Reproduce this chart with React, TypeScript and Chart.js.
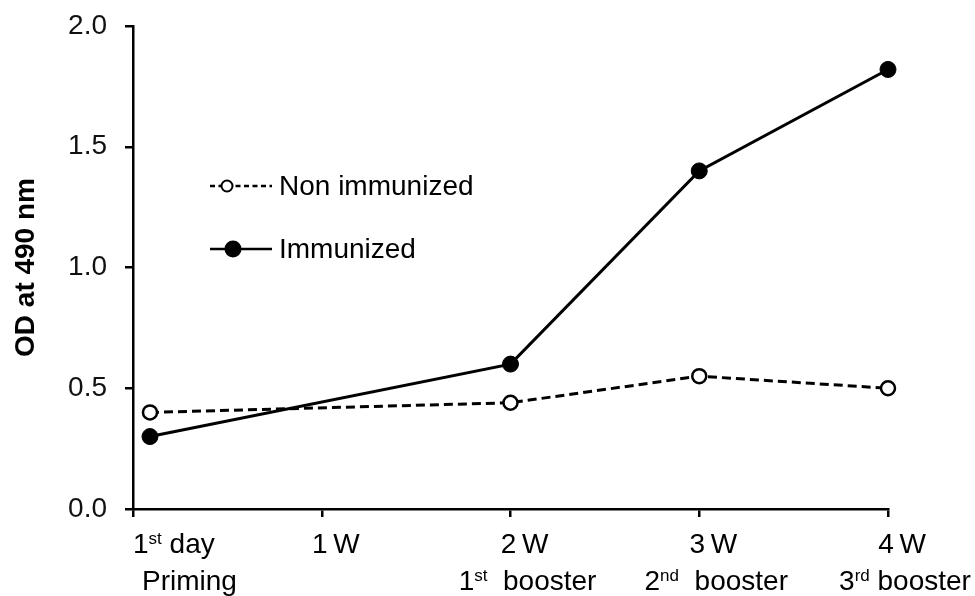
import React, { useEffect, useRef } from "react";
import { Chart, registerables } from "chart.js";

Chart.register(...registerables);

// ---- data ----
const weeks = [0.09, 2, 3, 4];
const nonImmunized = [0.4, 0.44, 0.55, 0.5];
const immunized = [0.3, 0.6, 1.4, 1.82];
const seriesLabels = ["Non immunized", "Immunized"];
const xTickValues = [0, 1, 2, 3, 4];
const xTickLine1 = ["1{st} day", "1\u2009W", "2\u2009W", "3\u2009W", "4\u2009W"];
const xTickLine2 = ["Priming", "", "1{st}  booster", "2{nd}  booster", "3{rd} booster"];
const yMin = 0;
const yMax = 2;
const yStep = 0.5;
const yTitle = "OD at 490 nm";

const FONT = "Liberation Sans";
const MAIN_SIZE = 28;
const SUP_SIZE = 17;

type Seg = { text: string; sup: boolean };
function parseRich(s: string): Seg[] {
  const out: Seg[] = [];
  const re = /\{([^}]*)\}/g;
  let last = 0;
  let m: RegExpExecArray | null;
  while ((m = re.exec(s))) {
    if (m.index > last) out.push({ text: s.slice(last, m.index), sup: false });
    out.push({ text: m[1], sup: true });
    last = m.index + m[0].length;
  }
  if (last < s.length) out.push({ text: s.slice(last), sup: false });
  return out;
}

function drawRich(ctx: CanvasRenderingContext2D, s: string, x: number, y: number, align: "left" | "center") {
  const segs = parseRich(s);
  const fontFor = (sup: boolean) => `${sup ? SUP_SIZE : MAIN_SIZE}px "${FONT}"`;
  let total = 0;
  segs.forEach((sg) => {
    ctx.font = fontFor(sg.sup);
    total += ctx.measureText(sg.text).width;
  });
  let cx = align === "center" ? x - total / 2 : x;
  ctx.textAlign = "left";
  ctx.textBaseline = "alphabetic";
  segs.forEach((sg) => {
    ctx.font = fontFor(sg.sup);
    ctx.fillText(sg.text, cx, sg.sup ? y - 9 : y);
    cx += ctx.measureText(sg.text).width;
  });
}

const xLabelPlugin = {
  id: "xLabels",
  afterDraw(chart: any) {
    const ctx: CanvasRenderingContext2D = chart.ctx;
    const xs = chart.scales.x;
    const base = chart.chartArea.bottom;
    ctx.save();
    ctx.fillStyle = "#000";
    xTickValues.forEach((v, i) => {
      const px = xs.getPixelForValue(v);
      if (i === 0) {
        drawRich(ctx, xTickLine1[i], px, base + 44, "left");
        drawRich(ctx, xTickLine2[i], px + 9, base + 81, "left");
      } else {
        drawRich(ctx, xTickLine1[i], px + 14, base + 44, "center");
        if (xTickLine2[i]) drawRich(ctx, xTickLine2[i], px + 17, base + 81, "center");
      }
    });
    ctx.restore();
  },
};

const legendPlugin = {
  id: "customLegend",
  afterDraw(chart: any) {
    const ctx: CanvasRenderingContext2D = chart.ctx;
    const { left, top } = chart.chartArea;
    const rows = [
      { y: top + 160, dash: [5, 3.5], fill: "#fff", r: 5.5, mx: left + 94, label: seriesLabels[0] },
      { y: top + 223, dash: [], fill: "#000", r: 7.5, mx: left + 100, label: seriesLabels[1] },
    ];
    ctx.save();
    rows.forEach((row) => {
      ctx.strokeStyle = "#000";
      ctx.lineWidth = 2.5;
      ctx.setLineDash(row.dash);
      ctx.beginPath();
      ctx.moveTo(left + 77, row.y);
      ctx.lineTo(left + 139, row.y);
      ctx.stroke();
      ctx.setLineDash([]);
      ctx.beginPath();
      ctx.arc(row.mx, row.y, row.r, 0, Math.PI * 2);
      ctx.fillStyle = row.fill;
      ctx.fill();
      ctx.lineWidth = 2;
      ctx.stroke();
      ctx.fillStyle = "#000";
      ctx.font = `${MAIN_SIZE}px "${FONT}"`;
      ctx.textAlign = "left";
      ctx.textBaseline = "middle";
      ctx.fillText(row.label, left + 146, row.y + 1);
    });
    ctx.restore();
  },
};

export default function App() {
  const ref = useRef<HTMLCanvasElement | null>(null);

  useEffect(() => {
    if (!ref.current) return;
    const chart = new Chart(ref.current, {
      type: "line",
      data: {
        datasets: [
          {
            label: seriesLabels[0],
            data: weeks.map((x, i) => ({ x, y: nonImmunized[i] })),
            borderColor: "#000",
            borderWidth: 3,
            borderDash: [9, 5],
            pointRadius: 7,
            pointBackgroundColor: "#fff",
            pointBorderColor: "#000",
            pointBorderWidth: 2.5,
            clip: false as any,
            tension: 0,
          },
          {
            label: seriesLabels[1],
            data: weeks.map((x, i) => ({ x, y: immunized[i] })),
            borderColor: "#000",
            borderWidth: 3,
            pointRadius: 8,
            pointBackgroundColor: "#000",
            pointBorderColor: "#000",
            pointBorderWidth: 1,
            clip: false as any,
            tension: 0,
          },
        ],
      },
      options: {
        responsive: false,
        animation: false,
        layout: { padding: { left: 0, top: 26, right: 87, bottom: 0 } },
        plugins: {
          legend: { display: false },
          tooltip: { enabled: false },
        },
        scales: {
          x: {
            type: "linear",
            min: 0,
            max: 4,
            afterFit: (s: any) => {
              s.height = 87;
              s.paddingLeft = 0;
              s.paddingRight = 0;
            },
            afterBuildTicks: (s: any) => {
              s.ticks = xTickValues.map((v) => ({ value: v }));
            },
            ticks: { display: false },
            grid: {
              display: true,
              drawOnChartArea: false,
              drawTicks: true,
              tickLength: 8,
              color: "#000",
              lineWidth: 2.5,
            },
            border: { display: true, color: "#000", width: 2.5 },
          },
          y: {
            type: "linear",
            min: yMin,
            max: yMax,
            afterFit: (s: any) => {
              s.width = 133;
              s.paddingTop = 0;
              s.paddingBottom = 0;
            },
            ticks: {
              stepSize: yStep,
              padding: 18,
              color: "#111",
              font: { family: FONT, size: MAIN_SIZE },
              callback: (v: any) => Number(v).toFixed(1),
            },
            grid: {
              display: true,
              drawOnChartArea: false,
              drawTicks: true,
              tickLength: 8,
              color: "#000",
              lineWidth: 2.5,
            },
            border: { display: true, color: "#000", width: 2.5 },
            title: {
              display: true,
              text: yTitle,
              color: "#000",
              font: { family: "Liberation Sans", size: 28, weight: "bold" },
              padding: { top: 9, bottom: 0 },
            },
          },
        },
      },
      plugins: [xLabelPlugin, legendPlugin],
    });
    return () => chart.destroy();
  }, []);

  return (
    <div style={{ position: "absolute", left: 0, top: 0, width: 975, height: 596, background: "#fff" }}>
      <canvas ref={ref} width={975} height={596} style={{ display: "block", width: 975, height: 596 }} />
    </div>
  );
}
